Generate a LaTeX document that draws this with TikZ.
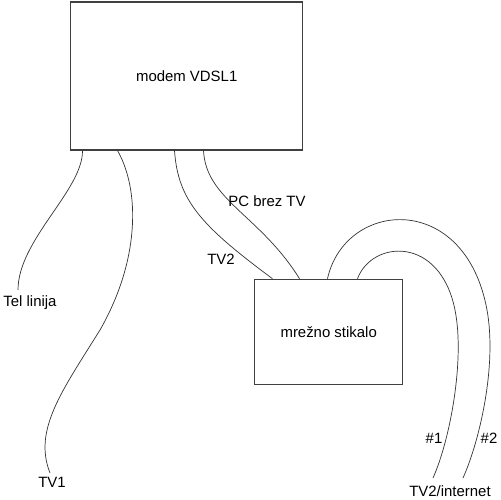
\documentclass[tikz,border=0pt]{standalone}
\usepackage{fontspec}
\setmainfont{Liberation Sans}
\usetikzlibrary{calc}
\tikzset{
  box/.style={draw=black!75,line width=0.6pt,inner sep=0pt},
  cable/.style={draw=black!80,line width=0.4pt},
  lbl/.style={inner sep=0pt,font=\fontsize{8.5}{10}\selectfont}
}
\begin{document}
\begin{tikzpicture}[x=0.02cm,y=-0.02cm]
        \useasboundingbox (0,0) rectangle (500,500);
        \node[box,lbl,minimum width=4.64cm,minimum height=2.96cm] (modem) at (186.7,76) {modem VDSL1}; % modem
        \node[box,lbl,minimum width=2.96cm,minimum height=2.1cm] (stikalo) at (328.7,331.7) {mrežno stikalo}; % stikalo
        \coordinate (tel) at (18,290);
        \coordinate (tv1) at (50,473);
        \coordinate (tvi1) at (433,478);
        \coordinate (tvi2) at (463,478);
        \draw[cable] ($(modem.south west)+(12.3,0)$) .. controls (83,190) and (18,240) .. (tel);
        \draw[cable] ($(modem.south west)+(47.3,0)$) .. controls (140,190) and (140,260) .. (100,330)
              .. controls (62,391) and (33,430) .. (tv1);
        \draw[cable] ($(modem.south west)+(104.3,0)$) .. controls (178,200) and (200,225) .. ($(stikalo.north west)+(18.3,0)$);
        \draw[cable] ($(modem.south west)+(133.3,0)$) .. controls (206,200) and (260,215) .. ($(stikalo.north west)+(45.3,0)$);
        \draw[cable] ($(stikalo.north west)+(73.3,0)$) .. controls (345,200) and (465,190) .. (487,310)
              .. controls (497,365) and (480,440) .. (tvi2);
        \draw[cable] ($(stikalo.north west)+(103.3,0)$) .. controls (372,240) and (440,235) .. (455,310)
              .. controls (465,360) and (450,440) .. (tvi1);
        \node[lbl] (ltel) at (30,303) {Tel linija};
        \node[lbl] (ltv1) at (52,482) {TV1};
        \node[lbl] (ltv2) at (221,259) {TV2};
        \node[lbl] (lpc) at (267,201) {PC brez TV};
        \node[lbl] (l1) at (434,438) {\#1};
        \node[lbl] (l2) at (489,438) {\#2};
        \node[lbl] (ltvi) at (450,491) {TV2/internet};
\end{tikzpicture}
\end{document}
